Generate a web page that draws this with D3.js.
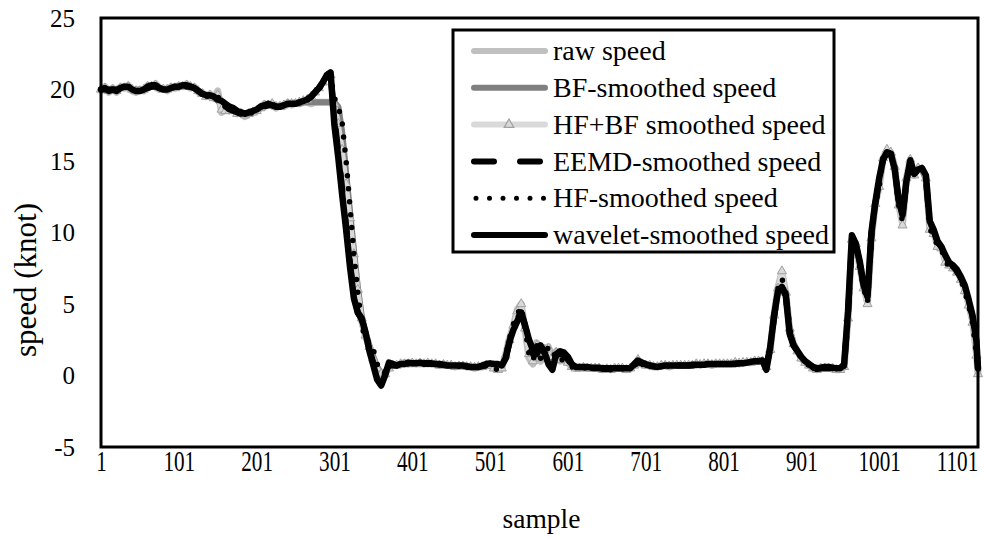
<!DOCTYPE html>
<html>
<head>
<meta charset="utf-8">
<script src="https://cdn.jsdelivr.net/npm/d3@7/dist/d3.min.js"></script>
<style>
  html, body { margin: 0; padding: 0; background: #fff; }
  svg { display: block; }
  text { font-family: "Liberation Serif", "Times New Roman", serif; fill: #000; }
</style>
</head>
<body>
<svg id="chart" width="989" height="540"></svg>
<script>
// ---- data ----
const sample = d3.range(1, 1127, 5).concat([1128]);

const rawSpeed = [
 19.9,20.2,19.8,20.1,19.8,20.2,20.1,20.3,19.9,19.8,20.0,19.9,20.3,20.2,20.4,20.0,20.1,19.9,20.2,20.1,
 20.3,20.2,20.4,20.1,20.2,19.8,19.8,19.5,19.7,19.4,19.9,18.4,18.6,18.5,18.6,18.3,18.4,18.1,18.3,18.4,
 18.5,18.7,19.0,18.9,19.0,18.7,18.9,18.8,19.1,18.9,19.1,19.0,19.1,19.1,19.0,19.1,19.1,19.1,19.1,19.1,
 19.1,18.6,16.5,13.6,11.0,8.3,5.8,3.8,2.7,2.0,1.2,0.5,0.0,0.1,0.6,0.8,0.7,0.8,0.9,0.8,
 0.9,0.8,0.9,0.8,0.9,0.8,0.8,0.7,0.8,0.7,0.7,0.6,0.7,0.7,0.6,0.6,0.5,0.6,0.6,0.7,
 0.7,0.5,0.4,0.5,1.5,2.6,3.5,4.6,5.0,3.2,1.2,0.8,2.3,1.0,1.9,2.0,1.2,1.7,1.0,1.1,
 0.9,0.6,0.5,0.5,0.6,0.5,0.5,0.5,0.5,0.4,0.5,0.4,0.5,0.5,0.5,0.4,0.5,0.7,1.1,0.8,
 0.7,0.7,0.6,0.6,0.7,0.7,0.6,0.7,0.7,0.7,0.7,0.7,0.7,0.8,0.7,0.8,0.8,0.7,0.8,0.8,
 0.8,0.8,0.8,0.9,0.8,0.9,0.9,0.9,1.0,1.0,1.0,0.6,1.8,4.3,6.2,7.2,5.8,3.2,2.2,1.7,
 1.2,0.9,0.7,0.5,0.4,0.5,0.5,0.5,0.5,0.4,0.4,0.6,4.0,9.6,9.2,7.6,6.2,5.1,9.6,12.0,
 13.2,15.2,15.7,15.6,14.6,12.0,10.6,13.8,15.1,14.0,14.5,14.4,13.9,10.3,10.0,9.1,9.0,8.0,7.8,7.5,
 7.3,6.8,6.0,5.0,3.8,1.5,0.2
];

const bfSpeed = [
 20.0,20.0,20.0,20.0,20.0,20.1,20.1,20.1,20.0,20.0,20.0,20.0,20.1,20.2,20.2,20.1,20.0,20.0,20.1,20.1,
 20.2,20.2,20.2,20.2,20.1,19.9,19.7,19.6,19.5,19.4,19.2,19.0,18.8,18.6,18.5,18.4,18.3,18.3,18.3,18.4,
 18.5,18.7,18.8,18.9,18.9,18.8,18.8,18.9,19.0,19.0,19.0,19.0,19.1,19.1,19.1,19.1,19.1,19.1,19.1,19.1,
 19.1,18.8,17.0,14.2,11.5,8.8,6.2,4.2,3.0,2.1,1.3,0.6,0.2,0.2,0.5,0.7,0.7,0.8,0.8,0.8,
 0.85,0.85,0.85,0.8,0.8,0.8,0.8,0.75,0.75,0.7,0.7,0.65,0.65,0.65,0.6,0.6,0.6,0.6,0.65,0.7,
 0.7,0.6,0.5,0.6,1.3,2.4,3.4,4.3,4.7,3.4,1.8,1.3,1.8,1.4,1.7,1.8,1.4,1.5,1.2,1.1,
 0.9,0.7,0.6,0.55,0.55,0.5,0.5,0.5,0.5,0.45,0.45,0.45,0.5,0.5,0.5,0.45,0.5,0.7,0.95,0.85,
 0.75,0.7,0.65,0.65,0.7,0.7,0.7,0.7,0.7,0.7,0.7,0.7,0.7,0.75,0.75,0.75,0.8,0.8,0.8,0.8,
 0.8,0.8,0.8,0.85,0.85,0.9,0.9,0.9,0.95,1.0,1.0,0.7,1.9,4.2,6.0,6.9,5.7,3.2,2.2,1.7,
 1.2,0.9,0.7,0.55,0.45,0.5,0.5,0.5,0.5,0.45,0.45,0.7,4.2,9.3,9.3,7.8,6.3,5.3,9.7,12.0,
 13.4,15.1,15.6,15.5,14.5,12.1,10.8,13.6,15.0,14.1,14.4,14.4,13.7,10.5,10.1,9.2,9.0,8.1,7.8,7.6,
 7.3,6.8,6.1,5.1,4.0,1.8,0.3
];

const hfbfSpeed = [
 20.0,20.1,19.9,20.0,19.9,20.1,20.1,20.2,20.0,19.9,19.9,20.0,20.2,20.2,20.3,20.1,20.0,20.0,20.1,20.1,
 20.2,20.2,20.3,20.2,20.1,19.9,19.7,19.5,19.6,19.4,19.6,18.6,18.5,18.5,18.5,18.3,18.3,18.2,18.3,18.4,
 18.5,18.7,18.9,18.9,19.0,18.8,18.8,18.9,19.0,19.0,19.0,19.1,19.2,19.3,19.5,19.8,20.1,20.5,20.9,21.0,
 19.0,17.6,15.8,13.4,11.0,8.5,6.0,4.0,2.8,2.0,1.2,0.5,0.1,0.1,0.5,0.7,0.7,0.8,0.8,0.8,
 0.85,0.8,0.85,0.8,0.85,0.8,0.8,0.7,0.75,0.7,0.7,0.6,0.65,0.65,0.6,0.6,0.55,0.6,0.6,0.7,
 0.7,0.5,0.4,0.5,1.4,2.5,3.5,4.5,5.0,3.3,1.5,1.0,2.1,1.2,1.8,1.9,1.3,1.6,1.1,1.1,
 0.9,0.6,0.5,0.5,0.55,0.5,0.5,0.5,0.5,0.4,0.45,0.4,0.5,0.5,0.5,0.4,0.5,0.7,1.1,0.8,
 0.7,0.7,0.6,0.6,0.7,0.7,0.65,0.7,0.7,0.7,0.7,0.7,0.7,0.8,0.75,0.8,0.8,0.75,0.8,0.8,
 0.8,0.8,0.8,0.9,0.85,0.9,0.9,0.9,1.0,1.0,1.0,0.6,1.8,4.2,6.1,7.3,5.8,3.3,2.2,1.7,
 1.2,0.9,0.7,0.5,0.4,0.5,0.5,0.5,0.5,0.4,0.4,0.6,4.0,9.5,9.2,7.6,6.1,5.0,9.6,12.0,
 13.2,15.2,15.8,15.6,14.6,11.9,10.5,13.8,15.1,14.0,14.5,14.4,13.8,10.2,9.9,9.0,8.9,7.9,7.7,7.5,
 7.2,6.7,5.9,4.9,3.7,1.4,0.1
];

const eemdSpeed = [
 20.0,20.0,20.0,20.0,20.0,20.1,20.1,20.1,20.0,20.0,20.0,20.0,20.1,20.2,20.2,20.1,20.0,20.0,20.1,20.1,
 20.2,20.2,20.2,20.2,20.1,19.9,19.7,19.6,19.5,19.4,19.2,19.0,18.8,18.6,18.5,18.4,18.3,18.3,18.3,18.4,
 18.5,18.7,18.8,18.9,18.9,18.8,18.8,18.9,19.0,19.0,19.0,19.1,19.2,19.3,19.5,19.8,20.1,20.4,20.9,21.0,
 18.0,15.6,13.0,10.5,7.9,5.6,4.4,3.9,2.9,1.8,0.9,0.1,-0.3,0.2,0.7,0.7,0.7,0.8,0.8,0.8,
 0.85,0.85,0.85,0.8,0.8,0.8,0.8,0.75,0.75,0.7,0.7,0.65,0.65,0.65,0.6,0.6,0.6,0.6,0.65,0.7,
 0.7,0.6,0.6,0.6,1.2,2.3,3.3,4.0,4.4,3.5,2.2,1.5,1.6,1.9,1.6,1.0,0.7,1.4,1.5,1.4,
 1.1,0.7,0.6,0.55,0.55,0.5,0.5,0.5,0.5,0.45,0.45,0.45,0.5,0.5,0.5,0.45,0.5,0.7,0.9,0.85,
 0.75,0.7,0.65,0.65,0.7,0.7,0.7,0.7,0.7,0.7,0.7,0.7,0.7,0.75,0.75,0.75,0.8,0.8,0.8,0.8,
 0.8,0.8,0.8,0.85,0.85,0.9,0.9,0.9,0.95,1.0,1.0,0.6,1.9,4.1,5.9,6.2,5.6,3.0,2.1,1.7,
 1.2,0.9,0.7,0.55,0.45,0.5,0.5,0.5,0.5,0.45,0.45,0.7,4.3,9.4,9.2,7.9,6.3,5.5,9.8,12.0,
 13.6,15.1,15.6,15.5,14.5,12.2,11.1,13.6,15.0,14.1,14.4,14.4,13.8,10.7,10.1,9.3,9.0,8.3,7.8,7.6,
 7.3,6.8,6.2,5.2,4.1,2.1,0.4
];

const hfSpeed = [
 20.0,20.1,19.9,20.0,19.9,20.1,20.2,20.2,20.0,19.9,20.0,20.0,20.2,20.2,20.3,20.1,20.0,20.0,20.1,20.1,
 20.2,20.2,20.3,20.2,20.1,19.9,19.7,19.5,19.6,19.4,19.5,19.1,18.9,18.7,18.6,18.4,18.3,18.3,18.3,18.4,
 18.5,18.7,18.9,18.9,19.0,18.8,18.8,18.9,19.0,19.0,19.0,19.1,19.2,19.3,19.5,19.8,20.1,20.4,20.8,20.9,
 19.4,18.8,17.6,15.0,11.8,8.5,5.8,3.6,2.4,2.4,1.8,0.8,0.2,0.2,0.5,0.7,0.7,0.8,0.8,0.8,
 0.85,0.8,0.85,0.8,0.85,0.8,0.8,0.7,0.75,0.7,0.7,0.6,0.65,0.65,0.6,0.6,0.55,0.6,0.6,0.7,
 0.7,0.5,0.4,0.5,1.4,2.6,3.6,4.3,4.8,3.3,1.5,1.0,2.1,1.2,1.8,1.9,1.3,1.6,1.1,1.1,
 0.9,0.6,0.5,0.5,0.55,0.5,0.5,0.5,0.5,0.4,0.45,0.4,0.5,0.5,0.5,0.4,0.5,0.7,1.1,0.8,
 0.7,0.7,0.6,0.6,0.7,0.7,0.65,0.7,0.7,0.7,0.7,0.7,0.7,0.8,0.75,0.8,0.8,0.75,0.8,0.8,
 0.8,0.8,0.8,0.9,0.85,0.9,0.9,0.9,1.0,1.0,1.0,0.6,1.8,4.2,6.1,6.8,5.8,3.3,2.2,1.7,
 1.2,0.9,0.7,0.5,0.4,0.5,0.5,0.5,0.5,0.4,0.4,0.6,4.0,9.5,9.2,7.6,6.1,5.1,9.6,12.0,
 13.2,15.2,15.6,15.6,14.6,11.9,10.8,13.8,15.1,14.0,14.5,14.4,13.8,10.2,9.9,9.0,8.9,7.9,7.7,7.5,
 7.2,6.7,5.9,4.9,3.7,1.4,0.2
];

const waveletSpeed = [
 20.0,20.1,19.9,20.0,19.9,20.1,20.2,20.2,20.0,19.9,19.9,20.0,20.2,20.3,20.3,20.1,20.0,20.0,20.1,20.2,
 20.2,20.3,20.3,20.2,20.1,19.9,19.7,19.6,19.6,19.5,19.3,19.2,19.0,18.8,18.7,18.5,18.4,18.3,18.4,18.5,
 18.6,18.8,18.9,19.0,18.9,18.8,18.8,18.9,19.0,19.0,19.0,19.1,19.2,19.3,19.5,19.8,20.1,20.5,21.0,21.2,
 17.5,15.2,12.6,10.2,7.6,5.4,4.4,4.0,3.0,1.7,0.7,-0.3,-0.7,0.0,0.9,0.8,0.7,0.8,0.8,0.9,
 0.85,0.85,0.9,0.85,0.85,0.85,0.8,0.8,0.75,0.7,0.7,0.7,0.7,0.7,0.65,0.6,0.6,0.6,0.7,0.8,
 0.85,0.8,0.8,0.7,1.2,2.4,3.2,3.8,4.4,3.5,2.5,1.8,1.5,2.1,1.6,0.8,0.4,1.5,1.7,1.6,
 1.3,0.8,0.6,0.6,0.6,0.6,0.55,0.55,0.55,0.5,0.5,0.5,0.5,0.5,0.5,0.5,0.5,0.8,1.05,0.9,
 0.8,0.7,0.65,0.6,0.65,0.7,0.7,0.7,0.7,0.7,0.7,0.7,0.75,0.75,0.75,0.75,0.8,0.8,0.8,0.8,
 0.8,0.8,0.8,0.8,0.85,0.85,0.9,0.95,1.0,1.0,1.05,0.4,2.0,4.2,5.9,6.2,5.6,2.9,2.1,1.7,
 1.3,1.0,0.8,0.6,0.5,0.55,0.6,0.6,0.55,0.5,0.5,0.8,4.5,9.8,9.2,8.0,6.3,5.5,10.0,12.1,
 13.8,15.1,15.6,15.5,14.4,12.3,11.2,13.6,15.0,14.1,14.4,14.5,14.0,10.8,10.2,9.4,9.0,8.4,7.9,7.7,
 7.4,6.9,6.3,5.3,4.2,2.4,0.5
];

const xTickLabels = [1, 101, 201, 301, 401, 501, 601, 701, 801, 901, 1001, 1101];
const yTickLabels = [-5, 0, 5, 10, 15, 20, 25];

const seriesNames = ["raw speed", "BF-smoothed speed", "HF+BF smoothed speed",
                     "EEMD-smoothed speed", "HF-smoothed speed", "wavelet-smoothed speed"];

// ---- drawing ----
const svg = d3.select("#chart");
const W = 989, H = 540;
const plot = { left: 101, right: 978, top: 18, bottom: 447 };

const x = d3.scaleLinear().domain([1, 1128]).range([plot.left, plot.right]);
const y = d3.scaleLinear().domain([-5, 25]).range([plot.bottom, plot.top]);

svg.append("rect").attr("width", W).attr("height", H).attr("fill", "#fff");

const styles = [
  { data: rawSpeed,     stroke: "#c0c0c0", width: 7,   dash: null },
  { data: bfSpeed,      stroke: "#808080", width: 6,   dash: null },
  { data: hfbfSpeed,    stroke: "#d9d9d9", width: 5,   dash: null, marker: true },
  { data: eemdSpeed,    stroke: "#000",    width: 6,   dash: "18 26" },
  { data: hfSpeed,      stroke: "#000",    width: 5.5, dash: "0 13" },
  { data: waveletSpeed, stroke: "#000",    width: 6.5, dash: null }
];

const line = d3.line()
  .x((d, i) => x(sample[i]))
  .y(d => y(d));

const gLines = svg.append("g");
styles.forEach(s => {
  gLines.append("path")
    .datum(s.data)
    .attr("d", line)
    .attr("fill", "none")
    .attr("stroke", s.stroke)
    .attr("stroke-width", s.width)
    .attr("stroke-linejoin", "round")
    .attr("stroke-linecap", "round")
    .attr("stroke-dasharray", s.dash);
  if (s.marker) {
    gLines.append("g").selectAll("path")
      .data(s.data)
      .join("path")
      .attr("transform", (d, i) => `translate(${x(sample[i])},${y(d)})`)
      .attr("d", d3.symbol(d3.symbolTriangle, 36))
      .attr("fill", "#d9d9d9")
      .attr("stroke", "#a0a0a0")
      .attr("stroke-width", 1);
  }
});

// plot border
svg.append("rect")
  .attr("x", plot.left).attr("y", plot.top)
  .attr("width", plot.right - plot.left).attr("height", plot.bottom - plot.top)
  .attr("fill", "none").attr("stroke", "#000").attr("stroke-width", 3);

// axes
const xAxis = d3.axisBottom(x).tickValues(xTickLabels).tickSize(0).tickPadding(3)
  .tickFormat(d => String(d));
const gx = svg.append("g").attr("transform", `translate(0,${plot.bottom})`).call(xAxis);
gx.select(".domain").remove();
gx.selectAll("text")
  .attr("font-size", 29)
  .attr("transform", "scale(0.73,1)")
  .attr("fill", "#000");

const yAxis = d3.axisLeft(y).tickValues(yTickLabels).tickSize(0).tickPadding(26)
  .tickFormat(d => String(d));
const gy = svg.append("g").attr("transform", `translate(${plot.left},0)`).call(yAxis);
gy.select(".domain").remove();
gy.selectAll("text").attr("font-size", 25).attr("fill", "#000");

svg.append("text")
  .attr("x", (plot.left + plot.right) / 2 + 2).attr("y", 528)
  .attr("text-anchor", "middle").attr("font-size", 27.5)
  .text("sample");

svg.append("text")
  .attr("transform", `translate(36,280) rotate(-90)`)
  .attr("text-anchor", "middle").attr("font-size", 31)
  .text("speed (knot)");

// legend
const lg = svg.append("g");
lg.append("rect")
  .attr("x", 453).attr("y", 30).attr("width", 381).attr("height", 222)
  .attr("fill", "#fff").attr("stroke", "#000").attr("stroke-width", 3);
const rowY = d3.scalePoint().domain(seriesNames).range([51, 235]);
seriesNames.forEach((name, k) => {
  const s = styles[k];
  const yy = rowY(name);
  lg.append("line")
    .attr("x1", k === 4 ? 476 : 474).attr("x2", 545).attr("y1", yy).attr("y2", yy)
    .attr("stroke", s.stroke).attr("stroke-width", k === 4 ? 5 : 6)
    .attr("stroke-linecap", "round")
    .attr("stroke-dasharray", k === 3 ? "20 26" : (k === 4 ? "0 13.5" : null));
  if (s.marker) {
    lg.append("path")
      .attr("transform", `translate(509,${yy})`)
      .attr("d", d3.symbol(d3.symbolTriangle, 40))
      .attr("fill", "#d9d9d9").attr("stroke", "#a0a0a0").attr("stroke-width", 1.2);
  }
  lg.append("text")
    .attr("x", 553).attr("y", yy).attr("dy", "0.33em")
    .attr("font-size", 28)
    .text(name);
});
</script>
</body>
</html>
